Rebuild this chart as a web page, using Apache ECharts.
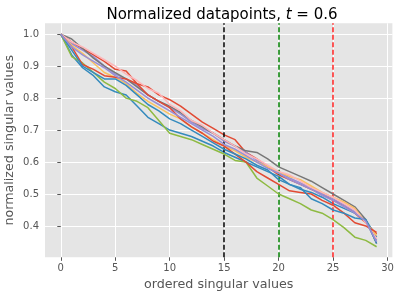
<!DOCTYPE html>
<html><head><meta charset="utf-8">
<script src="https://cdn.jsdelivr.net/npm/echarts@6/dist/echarts.min.js"></script>
<style>html,body{margin:0;padding:0;background:#fff}#c{width:399px;height:297px}</style>
</head><body><div id="c"></div>
<script>
const xValues = Array.from({length:30},(_,i)=>i);
const xTicks = [0,5,10,15,20,25,30];
const yTicks = [0.4,0.5,0.6,0.7,0.8,0.9,1.0];
const cutoffs = [15,20,25];
const cutoffColors = ['#000000','#008000','#ff2222'];
const colors = ['#E24A33','#348ABD','#988ED5','#777777','#FBC15E','#8EBA42','#FFB5B8','#E24A33','#348ABD','#988ED5'];
const s0 = [1.000,0.975,0.955,0.935,0.915,0.890,0.885,0.845,0.835,0.810,0.795,0.775,0.750,0.725,0.705,0.685,0.670,0.630,0.610,0.585,0.560,0.545,0.530,0.515,0.500,0.480,0.465,0.440,0.410,0.375];
const s1 = [1.000,0.935,0.895,0.870,0.835,0.820,0.810,0.775,0.740,0.720,0.700,0.690,0.680,0.665,0.650,0.630,0.615,0.600,0.585,0.570,0.555,0.530,0.515,0.505,0.490,0.470,0.455,0.440,0.420,0.365];
const s2 = [1.000,0.970,0.950,0.930,0.900,0.875,0.860,0.840,0.810,0.790,0.770,0.750,0.725,0.705,0.690,0.665,0.650,0.630,0.605,0.585,0.570,0.550,0.535,0.520,0.500,0.485,0.465,0.445,0.415,0.355];
const s3 = [1.000,0.985,0.955,0.925,0.900,0.880,0.860,0.835,0.810,0.790,0.775,0.755,0.730,0.710,0.690,0.670,0.650,0.635,0.630,0.610,0.585,0.570,0.555,0.540,0.520,0.500,0.480,0.460,0.420,0.345];
const s4 = [1.000,0.965,0.940,0.910,0.880,0.865,0.845,0.815,0.790,0.770,0.750,0.735,0.710,0.690,0.670,0.650,0.635,0.615,0.600,0.585,0.570,0.555,0.545,0.525,0.505,0.490,0.475,0.455,0.410,0.370];
const s5 = [1.000,0.930,0.910,0.880,0.850,0.830,0.800,0.790,0.770,0.730,0.690,0.680,0.670,0.655,0.640,0.625,0.605,0.600,0.550,0.525,0.500,0.485,0.470,0.450,0.440,0.420,0.395,0.365,0.355,0.335];
const s6 = [1.000,0.975,0.960,0.940,0.920,0.900,0.875,0.855,0.830,0.815,0.780,0.760,0.730,0.715,0.690,0.670,0.650,0.625,0.610,0.590,0.570,0.560,0.540,0.520,0.505,0.490,0.470,0.450,0.410,0.360];
const s7 = [1.000,0.960,0.905,0.890,0.870,0.865,0.860,0.845,0.810,0.790,0.770,0.735,0.710,0.690,0.665,0.650,0.625,0.600,0.570,0.550,0.530,0.510,0.505,0.500,0.480,0.465,0.440,0.410,0.400,0.380];
const s8 = [1.000,0.950,0.900,0.880,0.860,0.860,0.840,0.810,0.780,0.760,0.735,0.720,0.700,0.680,0.660,0.640,0.625,0.610,0.590,0.575,0.545,0.530,0.520,0.485,0.470,0.450,0.440,0.425,0.420,0.345];
const s9 = [1.000,0.960,0.935,0.915,0.895,0.870,0.850,0.825,0.800,0.780,0.760,0.740,0.720,0.700,0.680,0.655,0.640,0.620,0.600,0.580,0.565,0.545,0.530,0.515,0.495,0.480,0.460,0.440,0.415,0.350];
const allSeries = [s0,s1,s2,s3,s4,s5,s6,s7,s8,s9];

const font = 'DejaVu Sans';
const chart = echarts.init(document.getElementById('c'), null, {renderer:'canvas'});
const series = allSeries.map((s,i)=>({
  type:'line', data: s.map((v,j)=>[xValues[j], v]), symbol:'none', animation:false,
  lineStyle:{color:colors[i], width:1.5}, itemStyle:{color:colors[i]}, z: 3+i
}));
series.push({
  type:'line', data:[], symbol:'none', animation:false,
  markLine:{silent:true, symbol:['none','none'], label:{show:false},
    data: cutoffs.map((c,i)=>({xAxis:c, lineStyle:{color:cutoffColors[i], type:[5,2.5], width:1.5}}))},
  z: 20
});
chart.setOption({
  animation:false,
  backgroundColor:'#ffffff',
  title:{
    text:'{a|Normalized datapoints, }{i|t}{a| = 0.6}',
    left:217, textAlign:'center', top:3,
    textStyle:{fontWeight:'normal', rich:{
      a:{fontFamily:font, fontSize:15, fontWeight:'normal', color:'#000'},
      i:{fontFamily:font, fontSize:15, fontWeight:'normal', fontStyle:'italic', color:'#000'}
    }}
  },
  grid:{left:45, right:6.6, top:23.3, bottom:39.7, show:true, backgroundColor:'#E5E5E5', borderWidth:0,
    containLabel:false, outerBoundsMode:'none'},
  xAxis:{
    type:'value', min:-1.45, max:30.45,
    name:'ordered singular values', nameLocation:'middle', nameGap:21, nameMoveOverlap:false,
    nameTextStyle:{fontFamily:font, fontSize:12.7, color:'#555555'},
    axisLine:{show:false},
    axisTick:{show:true, customValues:xTicks, length:3.5, lineStyle:{color:'#555555', width:1}},
    axisLabel:{customValues:xTicks, fontFamily:font, fontSize:10, color:'#555555', margin:6},
    splitLine:{show:true, customValues:xTicks, lineStyle:{color:'#ffffff', width:1}}
  },
  yAxis:{
    type:'value', min:0.302, max:1.034,
    name:'normalized singular values', nameLocation:'middle', nameGap:29, nameMoveOverlap:false,
    nameTextStyle:{fontFamily:font, fontSize:12.7, color:'#555555'},
    axisLine:{show:false},
    axisTick:{show:true, customValues:yTicks, length:3.5, lineStyle:{color:'#555555', width:1}},
    axisLabel:{customValues:yTicks, fontFamily:font, fontSize:10, color:'#555555', margin:6,
      formatter:v=>v.toFixed(1)},
    splitLine:{show:true, customValues:yTicks, lineStyle:{color:'#ffffff', width:1}}
  },
  series: series
});
</script></body></html>
